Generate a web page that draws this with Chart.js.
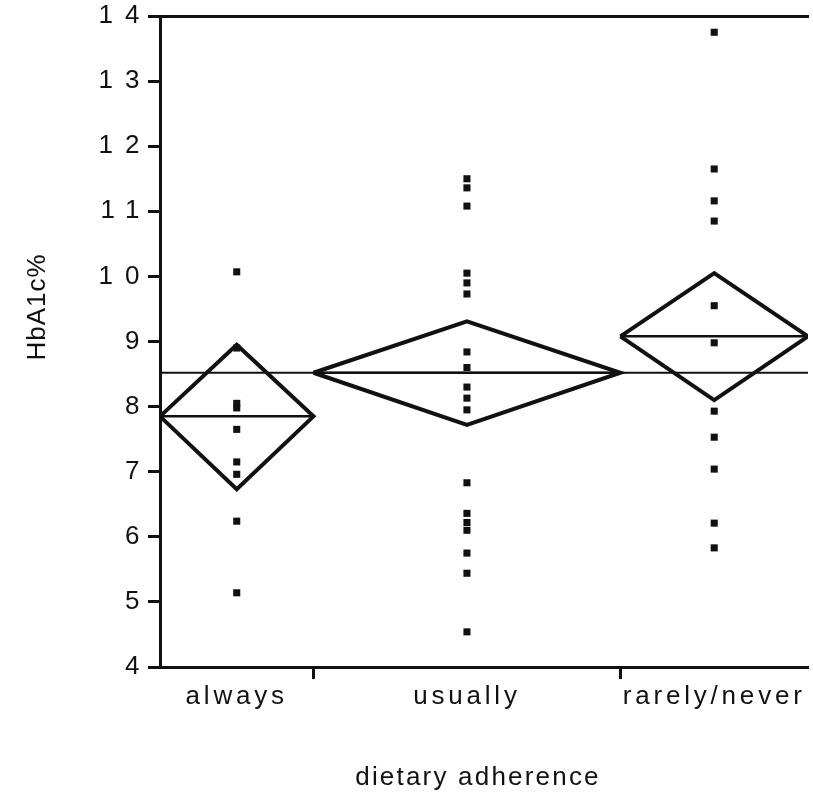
<!DOCTYPE html>
<html>
<head>
<meta charset="utf-8">
<script src="https://cdn.jsdelivr.net/npm/chart.js@4.4.1/dist/chart.umd.min.js"></script>
<style>
    html, body { margin: 0; padding: 0; background: #fff; overflow: hidden; }
</style>
</head>
<body>
<canvas id="hba1c" width="813" height="794"></canvas>
<script>
// groups and their sizes (group width on the x axis is proportional to n)
var groups = ['always', 'usually', 'rarely/never'];
var groupSizes = [9, 18, 11];

// HbA1c% per patient
var alwaysValues = [10.07, 8.9, 8.05, 7.98, 7.65, 7.15, 6.96, 6.24, 5.14];
var usuallyValues = [11.5, 11.36, 11.08, 10.05, 9.9, 9.73, 8.84, 8.6, 8.3, 8.13, 7.95, 6.83, 6.36, 6.22, 6.1, 5.75, 5.44, 4.54];
var rarelyValues = [13.75, 11.65, 11.16, 10.85, 9.55, 8.98, 7.93, 7.53, 7.04, 6.21, 5.83];

// means diamonds
var groupMeans = [7.85, 8.52, 9.08];
var upperLimits = [8.95, 9.31, 10.05];
var lowerLimits = [6.73, 7.72, 8.10];
var grandMean = 8.52;

var yTicks = [4, 5, 6, 7, 8, 9, 10, 11, 12, 13, 14];

var MeansChart = function () {

    var ink = '#111';
    var family = '"Liberation Sans", Arial, Helvetica, sans-serif';

    return {
        buildDatasets: function (bounds, centers, total) {
            var sets = [];
            var values = [alwaysValues, usuallyValues, rarelyValues];

            sets.push({
                showLine: true,
                data: [{x: 0, y: grandMean}, {x: total, y: grandMean}],
                borderColor: ink,
                borderWidth: 2,
                pointRadius: 0
            });

            $each(groups, function (i) {
                var a = bounds[i][0], b = bounds[i][1], c = centers[i];
                var m = groupMeans[i];

                sets.push({
                    showLine: true,
                    data: [{x: a, y: m}, {x: b, y: m}],
                    borderColor: ink,
                    borderWidth: 2.5,
                    pointRadius: 0
                });
                sets.push({
                    showLine: true,
                    data: [{x: a, y: m}, {x: c, y: upperLimits[i]}, {x: b, y: m}, {x: c, y: lowerLimits[i]}, {x: a, y: m}],
                    borderColor: ink,
                    borderWidth: 4,
                    borderJoinStyle: 'miter',
                    pointRadius: 0
                });
                sets.push({
                    showLine: false,
                    data: values[i].map(function (v) { return {x: c, y: v}; }),
                    pointStyle: 'rect',
                    pointRadius: 5,
                    pointBackgroundColor: ink,
                    pointBorderWidth: 0
                });
            });
            return sets;
        },
        spaced: function (scale, spacing) {
            // old mac type had wide letter spacing, canvas can do that
            if (scale._spaced) return;
            var orig = scale.drawLabels.bind(scale);
            scale.drawLabels = function (area) {
                var c = scale.ctx;
                var prev = c.letterSpacing;
                c.letterSpacing = spacing;
                orig(area);
                c.letterSpacing = prev;
            };
            scale._spaced = true;
        },
        init: function () {
            var bounds = [], centers = [], start = 0;
            $each(groupSizes, function (i, n) {
                bounds.push([start, start + n]);
                centers.push(start + n / 2);
                start += n;
            });
            var total = start;
            var inner = bounds.slice(0, -1).map(function (b) { return b[1]; });
            var xTicks = centers.concat(inner).sort(function (p, q) { return p - q; });

            var titles = {
                id: 'titles',
                afterLayout: function (chart) {
                    MeansChart.spaced(chart.scales.y, '12px');
                    MeansChart.spaced(chart.scales.x, '3.8px');
                },
                afterDraw: function (chart) {
                    var c = chart.ctx;
                    c.save();
                    c.fillStyle = ink;
                    c.font = '26px ' + family;
                    c.letterSpacing = '2.2px';
                    c.textAlign = 'center';
                    c.textBaseline = 'alphabetic';
                    c.fillText('dietary adherence', 478, 785);
                    c.translate(38, 307);
                    c.rotate(-Math.PI / 2);
                    c.letterSpacing = '1px';
                    c.textBaseline = 'middle';
                    c.fillText('HbA1c%', 0, 0);
                    c.restore();
                }
            };

            new Chart(document.getElementById('hba1c'), {
                type: 'scatter',
                data: {datasets: MeansChart.buildDatasets(bounds, centers, total)},
                plugins: [titles],
                options: {
                    responsive: false,
                    animation: false,
                    layout: {padding: {top: 16, left: 0, right: 0, bottom: 0}},
                    plugins: {legend: {display: false}, tooltip: {enabled: false}},
                    scales: {
                        x: {
                            type: 'linear', position: 'bottom', min: 0, max: total,
                            afterBuildTicks: function (s) { s.ticks = xTicks.map(function (v) { return {value: v}; }); },
                            afterFit: function (s) { s.height = 127; },
                            ticks: {
                                autoSkip: false, maxRotation: 0, padding: 2, color: ink,
                                font: {family: family, size: 26},
                                callback: function (v) {
                                    var i = centers.indexOf(v);
                                    return i >= 0 ? groups[i] : '';
                                }
                            },
                            grid: {
                                drawOnChartArea: false, tickLength: 12, tickWidth: 3,
                                tickColor: function (ctx) {
                                    return ctx.tick && inner.indexOf(ctx.tick.value) >= 0 ? ink : 'rgba(0,0,0,0)';
                                }
                            },
                            border: {color: ink, width: 3}
                        },
                        top: {
                            type: 'linear', position: 'top', min: 0, max: total,
                            afterFit: function (s) { s.height = 0; },
                            ticks: {display: false},
                            grid: {drawOnChartArea: false, drawTicks: false},
                            border: {color: ink, width: 3}
                        },
                        y: {
                            min: 4, max: 14,
                            afterBuildTicks: function (s) { s.ticks = yTicks.map(function (v) { return {value: v}; }); },
                            afterFit: function (s) { s.width = 160; },
                            ticks: {padding: -3.5, color: ink, font: {family: family, size: 26}},
                            grid: {drawOnChartArea: false, tickLength: 12, tickWidth: 3, tickColor: ink},
                            border: {color: ink, width: 3}
                        }
                    }
                }
            });
        }
    };

}();

function $each(list, fn) {
    for (var i = 0; i < list.length; i++) fn(i, list[i]);
}

MeansChart.init();
</script>
</body>
</html>
